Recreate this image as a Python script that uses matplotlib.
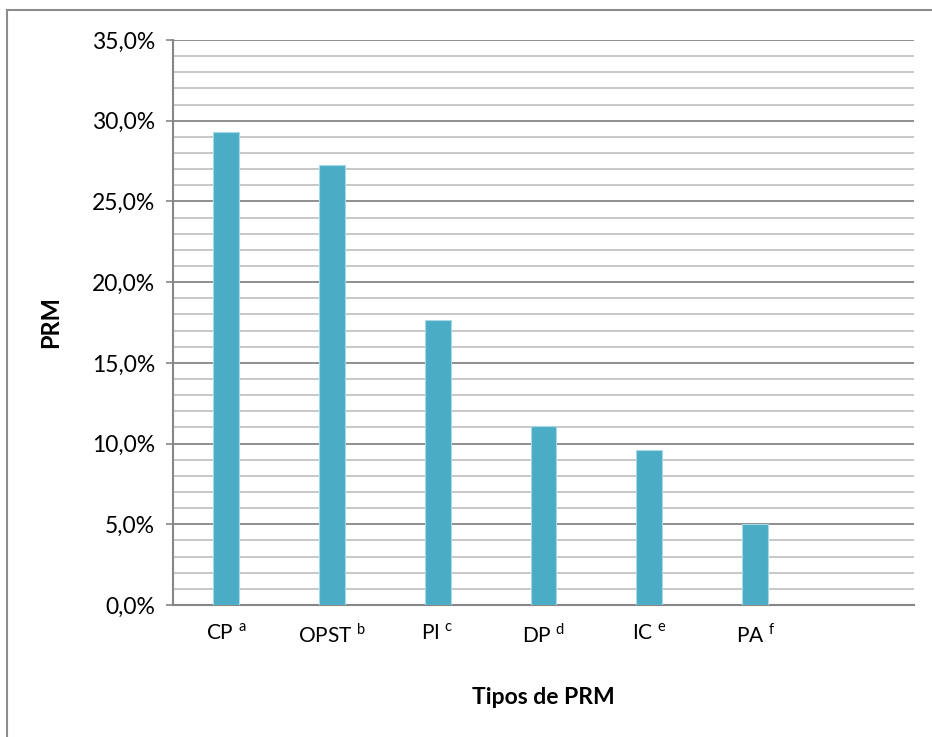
import numpy as np
import matplotlib.pyplot as plt
from matplotlib.lines import Line2D
from matplotlib.ticker import MultipleLocator, FuncFormatter

# data (share of PRM, %)
categories = ["CP", "OPST", "PI", "DP", "IC", "PA"]
marks = ["a", "b", "c", "d", "e", "f"]
values = [29.3, 27.25, 17.65, 11.1, 9.6, 5.0]
n_slots = 7  # one empty slot at the right, as in the original

plt.rcParams['font.family'] = ['Lato', 'DejaVu Sans']

fig = plt.figure(figsize=(9.32, 7.37), dpi=100)
ax = fig.add_axes([173 / 932, 132 / 737, 741 / 932, 565 / 737])

x = np.arange(len(categories))
ax.bar(x, values, width=0.245, color='#4bacc6', edgecolor='#a8d8e6',
       linewidth=0.8, zorder=3)

ax.set_xlim(-0.5, n_slots - 0.5)
ax.set_ylim(0, 35)
ax.yaxis.set_major_locator(MultipleLocator(5))
ax.yaxis.set_minor_locator(MultipleLocator(1))
ax.yaxis.set_major_formatter(FuncFormatter(lambda v, p: f"{v:.1f}%".replace('.', ',')))

ax.grid(axis='y', which='major', color='#868686', linewidth=1.3, zorder=0)
ax.grid(axis='y', which='minor', color='#c4c4c4', linewidth=1.3, zorder=0)
ax.set_axisbelow(True)

for s in ['top', 'right']:
    ax.spines[s].set_visible(False)
for s in ['left', 'bottom']:
    ax.spines[s].set_color('#868686')
    ax.spines[s].set_linewidth(1.5)

ax.tick_params(axis='y', which='major', length=5, width=1.2, color='#868686',
               labelsize=16.5, pad=8)
ax.tick_params(axis='y', which='minor', length=0)
ax.tick_params(axis='x', length=0, pad=13)

ax.set_xticks(x)
ax.set_xticklabels([f"{c} $^{{\\mathregular{{{m}}}}}$" for c, m in zip(categories, marks)],
                   fontsize=15)

ax.set_ylabel("PRM", fontsize=17, fontweight='bold')
ax.yaxis.set_label_coords(-0.15, 0.5)
ax.set_xlabel("Tipos de PRM", fontsize=16.5, fontweight='bold')
ax.xaxis.set_label_coords(0.5, -0.145)

# chart frame (only top and left edges fall inside the picture)
fig.add_artist(Line2D([7 / 932, 7 / 932], [0, 1 - 10 / 737], color='#8c8c8c', linewidth=1.5))
fig.add_artist(Line2D([7 / 932, 1], [1 - 10 / 737, 1 - 10 / 737], color='#8c8c8c', linewidth=1.5))

fig.savefig("out.png", dpi=100)
